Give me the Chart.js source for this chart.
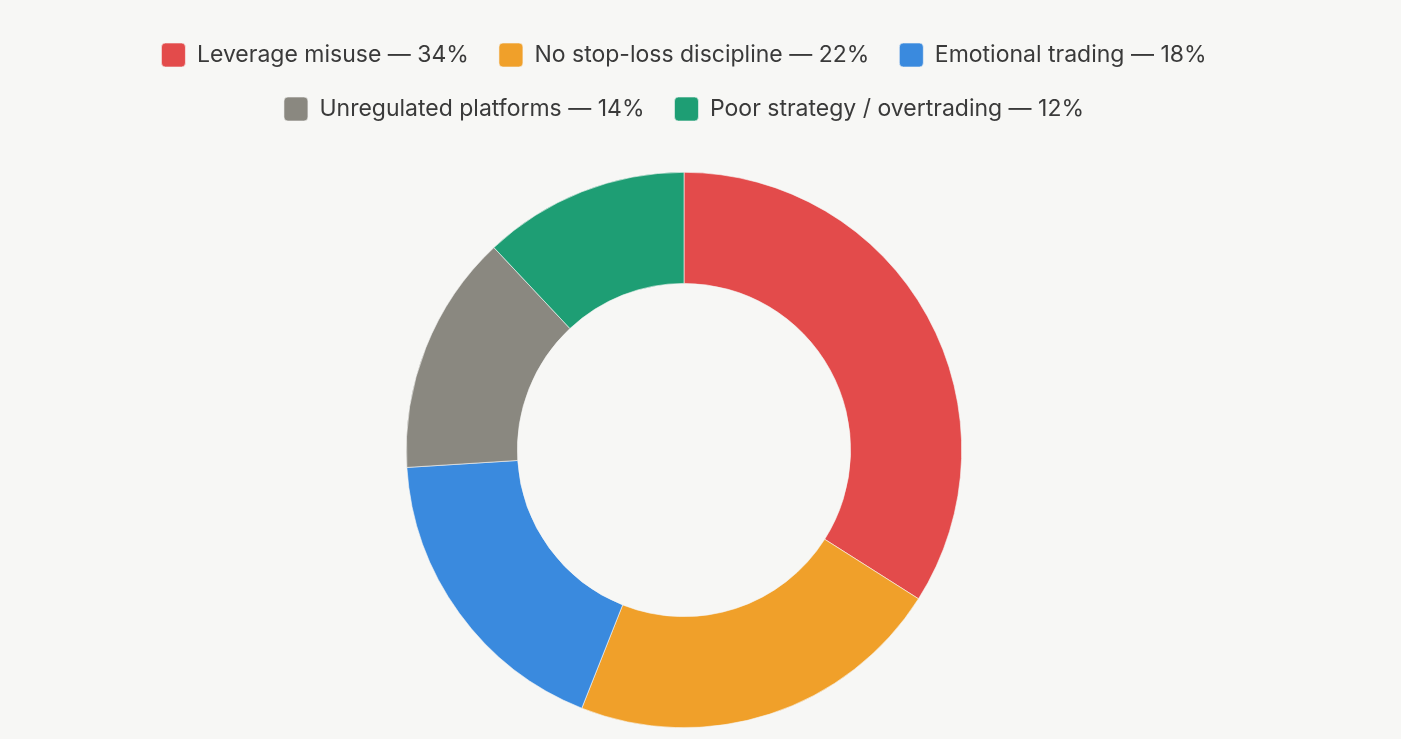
<!DOCTYPE html>
<html>
<head>
<meta charset="utf-8">
<script src="https://cdn.jsdelivr.net/npm/chart.js@4/dist/chart.umd.min.js"></script>
<style>
  html, body { margin: 0; padding: 0; background: #f7f7f5; }
  #wrap { position: relative; width: 1368px; height: 739px; }
</style>
</head>
<body>
<div id="wrap"><canvas id="lossChart"></canvas></div>
<script>
// loss causes, share of retail losses
const labels = [
  "Leverage misuse",
  "No stop-loss discipline",
  "Emotional trading",
  "Unregulated platforms",
  "Poor strategy / overtrading",
];
const shares = [34, 22, 18, 14, 12];
const colors = ["#e34b4b", "#f0a02a", "#3a8ade", "#8a8880", "#1e9e74"];

// extra space under the legend
const legendMargin = {
  id: "legendMargin",
  beforeInit(chart) {
    const fit = chart.legend.fit;
    chart.legend.fit = function () {
      fit.bind(chart.legend)();
      this.height += 41;
    };
  },
};

const ctx = document.getElementById("lossChart").getContext("2d");

new Chart(ctx, {
  type: "doughnut",
  data: {
    labels: labels.map((l, i) => `${l} — ${shares[i]}%`),
    datasets: [
      {
        data: shares,
        backgroundColor: colors,
        borderColor: "#f7f7f5",
        borderWidth: 0.6,
        hoverOffset: 0,
      },
    ],
  },
  options: {
    responsive: true,
    maintainAspectRatio: false,
    animation: false,
    cutout: "60%",
    layout: { padding: { top: 13, bottom: 11 } },
    plugins: {
      legend: {
        position: "top",
        labels: {
          color: "#3a3a3a",
          font: { family: "Inter, 'Noto Sans', sans-serif", size: 23 },
          boxWidth: 24,
          boxHeight: 24,
          borderRadius: 4,
          useBorderRadius: true,
          padding: 30,
        },
      },
      tooltip: { enabled: false },
    },
  },
  plugins: [legendMargin],
});
</script>
</body>
</html>
